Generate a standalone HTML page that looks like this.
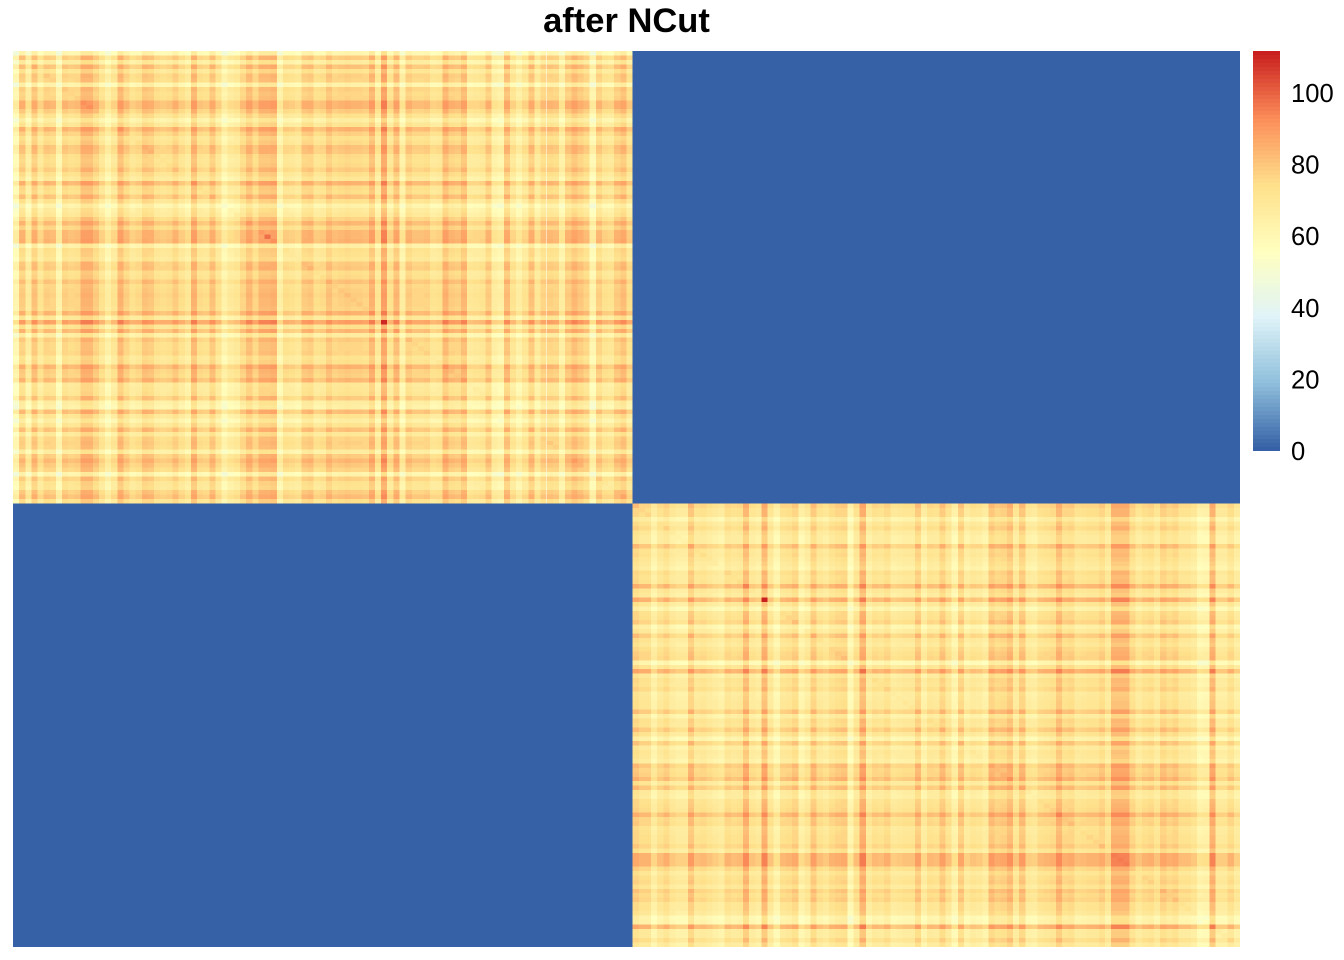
<!DOCTYPE html>
<html lang="en">
<head>
<meta charset="utf-8">
<title>after NCut</title>
<style>
html,body{margin:0;padding:0;background:#fff;}
svg{display:block;}
text{font-family:"Liberation Sans",Arial,sans-serif;fill:#000;}
</style>
</head>
<body>
<svg id="chart" xmlns="http://www.w3.org/2000/svg" width="1344" height="960" viewBox="0 0 1344 960">
  <rect width="1344" height="960" fill="#ffffff"/>
  <text x="626.5" y="32" text-anchor="middle" font-size="34.5" font-weight="bold">after NCut</text>
  <g id="cells" shape-rendering="crispEdges"></g>
  <g id="legend" shape-rendering="crispEdges"></g>
  <g id="legend-labels"></g>
</svg>
<script>
// Per-sample affinity levels (deviation from the block mean).
const clusterATopLevels = [-13,4,-7,6,-3,3,2,-11,3,1,2,9,9,4,-2,-9,-3,9,3,-2,0,6,5,0,-1,0,4,-1,-5,9,0,-1,6,-2,-11,-6,-4,2,8,2,8,8,9,-10,-1,-2,-4,4,5,-1,0];
const clusterAEndLevels = [6,2,3,4,3,3,2,9,-4,14,-2,8,-8,4,1,1,2,-3,-2,9,4,3,8,-5,-4,-3,4,-8,-10,7,-3,-9,-3,6,-5,2,3,2,-8,4,8,5,2,-12,3,-2,-3,4,7,-1];
const clusterBTopLevels = [5,2,2,-6,0,3,-2,-4,-4,8,0,1,-1,-3,-5,2,0,1,11,-1,-3,12,-1,-8,1,2,5,-7,-3,7,0,-2,2,4,5,-10,0,13,-3,1,0,3,-3,-2,-1,-1,7,-5,1,0];
const clusterBEndLevels = [7,0,-8,6,-4,-1,-2,-5,8,5,6,10,-1,8,-3,-4,1,2,3,11,4,5,0,1,2,2,5,-1,12,12,12,4,-1,2,3,-1,6,3,5,0,0,-2,-9,-8,12,-3,-3,2,-4];
const clusterMeans = [72, 70];
const diagonalBoost = 2;
const offBlockValue = 0;
// Individually read hot cells (global row/column index and value)
const hotRows = [60, 122, 41];
const hotCols = [60, 122, 41];
const hotValues = [110, 111, 98];
const legendTicks = [0,20,40,60,80,100];
const legendMax = 111.7;
const paletteAnchors = ['#3661A6','#8FBFDB','#E0F3F8','#FFFFBF','#FEE08B','#FC8D59','#C9201F'];
const paletteSteps = 100;

const clusterLevels = [clusterATopLevels.concat(clusterAEndLevels), clusterBTopLevels.concat(clusterBEndLevels)];
const total = clusterLevels[0].length + clusterLevels[1].length;
const plot = {left:13, top:51, width:1227, height:896};
const legendBox = {left:1253, top:51, width:27, height:400};
const NS = 'http://www.w3.org/2000/svg';

function xScale(k){ return plot.left + k * plot.width / total; }
function yScale(k){ return plot.top + k * plot.height / total; }
function legendY(v){ return legendBox.top + legendBox.height * (1 - v / legendMax); }
function hexToRgb(h){ return [1,3,5].map(function(p){ return parseInt(h.substr(p,2),16); }); }
function colorAt(t){
  const s = Math.max(0, Math.min(1, t)) * (paletteAnchors.length - 1);
  const a = Math.min(Math.floor(s), paletteAnchors.length - 2);
  const c0 = hexToRgb(paletteAnchors[a]);
  const c1 = hexToRgb(paletteAnchors[a + 1]);
  const f = s - a;
  return 'rgb(' + c0.map(function(c,i){ return Math.round(c + (c1[i] - c) * f); }).join(',') + ')';
}
function colorFor(v){
  const bin = Math.max(0, Math.min(paletteSteps - 1, Math.floor(v / legendMax * paletteSteps)));
  return colorAt(bin / (paletteSteps - 1));
}
function addRect(parent, x0, y0, x1, y1, fill){
  const r = document.createElementNS(NS, 'rect');
  r.setAttribute('x', x0.toFixed(2));
  r.setAttribute('y', y0.toFixed(2));
  r.setAttribute('width', (x1 - x0).toFixed(2));
  r.setAttribute('height', (y1 - y0).toFixed(2));
  r.setAttribute('fill', fill);
  parent.appendChild(r);
  return r;
}
function hotValue(row, col){
  for (let h = 0; h < hotValues.length; h++) {
    if (hotRows[h] === row && hotCols[h] === col) { return hotValues[h]; }
  }
  return null;
}

const cellsGroup = document.getElementById('cells');
const sizeA = clusterLevels[0].length;

// Zero-affinity off-diagonal blocks
const offTopRight = addRect(cellsGroup, xScale(sizeA), yScale(0), xScale(total), yScale(sizeA), colorFor(offBlockValue));


const offBottomLeft = addRect(cellsGroup, xScale(0), yScale(sizeA), xScale(sizeA), yScale(total), colorFor(offBlockValue));



// Cluster blocks
let offset = 0;
clusterLevels.forEach(function(levels, c){
  for (let i = 0; i < levels.length; i++) {
    for (let j = 0; j < levels.length; j++) {
      const hot = hotValue(offset + i, offset + j);
      const value = hot !== null ? hot : clusterMeans[c] + levels[i] + levels[j] + (i === j ? diagonalBoost : 0);
      const cell = addRect(cellsGroup, xScale(offset + j), yScale(offset + i), xScale(offset + j + 1), yScale(offset + i + 1), colorFor(value));
      
      
    }
  }
  offset += levels.length;
});

// Legend colour bar
const legendGroup = document.getElementById('legend');
for (let b = 0; b < paletteSteps; b++) {
  const band = addRect(legendGroup, legendBox.left, legendBox.top + legendBox.height * (1 - (b + 1) / paletteSteps), legendBox.left + legendBox.width, legendBox.top + legendBox.height * (1 - b / paletteSteps), colorAt(b / (paletteSteps - 1)));
  
  
}

// Legend tick labels
const labelGroup = document.getElementById('legend-labels');
legendTicks.forEach(function(v){
  const t = document.createElementNS(NS, 'text');
  t.setAttribute('x', 1291);
  t.setAttribute('y', (legendY(v) + 9).toFixed(1));
  t.setAttribute('font-size', '25.6');
  t.textContent = String(v);
  
  
  labelGroup.appendChild(t);
});
</script>
</body>
</html>
